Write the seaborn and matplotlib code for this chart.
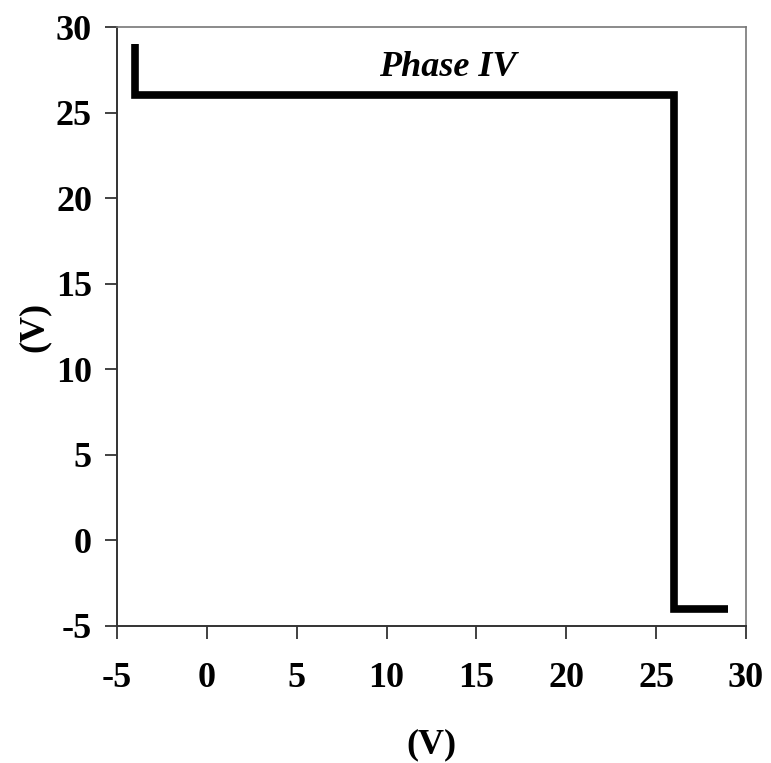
import matplotlib
matplotlib.use("Agg")
import matplotlib.pyplot as plt
import seaborn as sns
import pandas as pd

# Transfer characteristic (V in -> V out) for phase IV
v_in = [-4, -4, 26, 26, 29]
v_out = [29, 26, 26, -4, -4]
ticks = [-5, 0, 5, 10, 15, 20, 25, 30]
title_text = "Phase IV"

sns.set_theme(style="white")
plt.rcParams["font.family"] = ["Liberation Serif", "DejaVu Serif"]
plt.rcParams["text.color"] = "black"
plt.rcParams["axes.labelcolor"] = "black"
plt.rcParams["xtick.color"] = "black"
plt.rcParams["ytick.color"] = "black"

df = pd.DataFrame({"vin": v_in, "vout": v_out})

fig = plt.figure(figsize=(7.71, 7.63), dpi=100)
ax = fig.add_axes([0.1518, 0.1796, 0.8158, 0.785])

sns.lineplot(data=df, x="vin", y="vout", sort=False, estimator=None,
             color="black", linewidth=5.5, ax=ax,
             solid_joinstyle="miter", solid_capstyle="butt")

ax.set_xlim(-5, 30)
ax.set_ylim(-5, 30)
ax.set_xticks(ticks)
ax.set_yticks(ticks)
ax.set_xticklabels([str(t) for t in ticks], fontsize=26, fontweight="bold")
ax.set_yticklabels([str(t) for t in ticks], fontsize=26, fontweight="bold")
ax.tick_params(axis="both", direction="out", length=9, width=1.3,
               color="#333333", bottom=True, left=True)
ax.tick_params(axis="x", pad=17)
ax.tick_params(axis="y", pad=9)

for side in ["left", "bottom"]:
    ax.spines[side].set_color("#333333")
    ax.spines[side].set_linewidth(1.4)
for side in ["top", "right"]:
    ax.spines[side].set_color("#777777")
    ax.spines[side].set_linewidth(1.2)

ax.set_xlabel("(V)", fontsize=26, fontweight="bold", labelpad=24)
ax.set_ylabel("(V)", fontsize=26, fontweight="bold", labelpad=4)

ax.text(13.4, 27.15, title_text, fontsize=26, fontweight="bold",
        fontstyle="italic", ha="center", va="baseline")

fig.savefig("out.png", dpi=100)
